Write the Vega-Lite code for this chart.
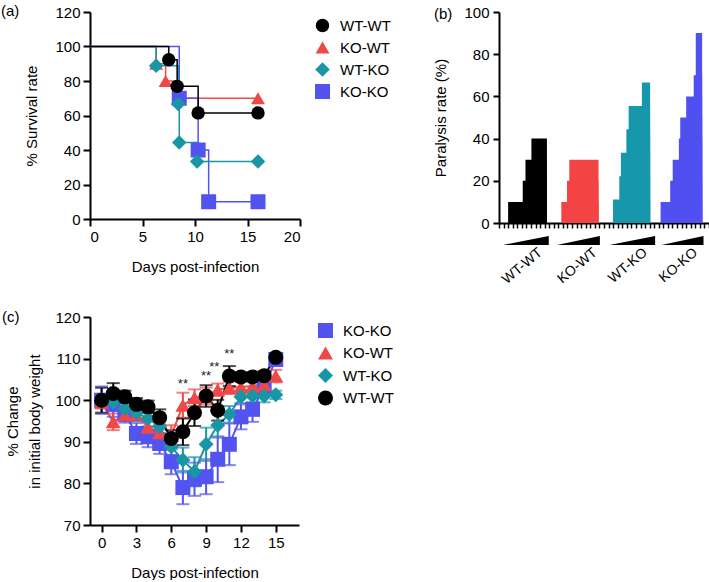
{
  "$schema": "https://vega.github.io/schema/vega-lite/v6.json",
  "background": "white",
  "padding": {"left": 0, "top": 4, "right": 0, "bottom": 0},
  "config": {
    "font": "Liberation Sans",
    "view": {"stroke": null},
    "axis": {"domainColor": "black", "domainWidth": 2, "tickColor": "black", "tickWidth": 2, "tickSize": 7, "labelFont": "Liberation Sans", "labelFontSize": 15, "labelColor": "black", "titleFont": "Liberation Sans", "titleFontSize": 15, "titleFontWeight": "normal", "titleColor": "black", "grid": false, "labelPadding": 3, "zindex": 1},
    "legend": {"labelFont": "Liberation Sans", "labelFontSize": 15, "labelColor": "black", "symbolOpacity": 1},
    "title": {"font": "Liberation Sans", "fontSize": 15, "fontWeight": "normal", "anchor": "start", "frame": "bounds", "color": "black"}
  },
  "columns": 2,
  "bounds": "flush",
  "spacing": {"row": 94, "column": 199},
  "resolve": {"scale": {"color": "independent", "shape": "independent", "size": "independent"}},
  "concat": [
    {
      "width": 210,
      "height": 207,
      "title": {"text": "(a)", "dx": -24, "dy": 18},
      "data": {"values": [
        {"group": "KO-WT", "day": 0, "survival": 100},
        {"group": "KO-WT", "day": 6.3, "survival": 90},
        {"group": "KO-WT", "day": 7.2, "survival": 80},
        {"group": "KO-WT", "day": 8.4, "survival": 70},
        {"group": "KO-WT", "day": 16, "survival": 70},
        {"group": "KO-KO", "day": 0, "survival": 100},
        {"group": "KO-KO", "day": 8.5, "survival": 70},
        {"group": "KO-KO", "day": 10.3, "survival": 40},
        {"group": "KO-KO", "day": 11.3, "survival": 10},
        {"group": "KO-KO", "day": 16, "survival": 10},
        {"group": "WT-KO", "day": 0, "survival": 100},
        {"group": "WT-KO", "day": 6.3, "survival": 88.9},
        {"group": "WT-KO", "day": 8.4, "survival": 66.7},
        {"group": "WT-KO", "day": 8.5, "survival": 44.4},
        {"group": "WT-KO", "day": 10.2, "survival": 33.3},
        {"group": "WT-KO", "day": 16, "survival": 33.3},
        {"group": "WT-WT", "day": 0, "survival": 100},
        {"group": "WT-WT", "day": 7.5, "survival": 92.3},
        {"group": "WT-WT", "day": 8.3, "survival": 76.9},
        {"group": "WT-WT", "day": 10.3, "survival": 61.5},
        {"group": "WT-WT", "day": 16, "survival": 61.5}
      ]},
      "encoding": {
        "x": {"field": "day", "type": "quantitative", "scale": {"domain": [0, 20], "nice": false}, "axis": {"values": [0, 5, 10, 15, 20], "title": "Days post-infection", "titlePadding": 15}},
        "y": {"field": "survival", "type": "quantitative", "scale": {"domain": [0, 120], "nice": false}, "axis": {"values": [0, 20, 40, 60, 80, 100, 120], "title": "%  Survival rate", "titlePadding": 15}},
        "color": {"field": "group", "type": "nominal", "scale": {"domain": ["WT-WT", "KO-WT", "WT-KO", "KO-KO"], "range": ["#000000", "#F04848", "#1896A6", "#5353F0"]},
          "legend": {"orient": "none", "legendX": 225, "legendY": 6, "title": null, "symbolSize": 170, "rowPadding": 6, "symbolStrokeWidth": 0, "labelOffset": 10}}
      },
      "layer": [
        {"mark": {"type": "line", "interpolate": "step-after", "strokeWidth": 1.5}},
        {"transform": [{"filter": "datum.day > 0"}],
         "mark": {"type": "point", "filled": true, "opacity": 1},
         "encoding": {
           "shape": {"field": "group", "type": "nominal", "scale": {"domain": ["WT-WT", "KO-WT", "WT-KO", "KO-KO"], "range": ["circle", "triangle-up", "diamond", "square"]},
             "legend": {"orient": "none", "legendX": 225, "legendY": 6, "title": null, "symbolSize": 170, "rowPadding": 6, "symbolStrokeWidth": 0, "labelOffset": 10}},
           "size": {"field": "group", "type": "nominal", "scale": {"domain": ["WT-WT", "KO-WT", "WT-KO", "KO-KO"], "range": [180, 225, 225, 170]}, "legend": null}
         }}
      ]
    },
    {
      "width": 210,
      "height": 211,
      "title": {"text": "(b)", "dx": 0, "dy": 21},
      "layer": [
        {
          "data": {"values": [
            {"group": "WT-WT", "start": 2.0, "end": 10.5, "rate": 10},
            {"group": "WT-WT", "start": 5.2, "end": 10.5, "rate": 20},
            {"group": "WT-WT", "start": 5.8, "end": 10.5, "rate": 30},
            {"group": "WT-WT", "start": 7.1, "end": 10.5, "rate": 40},
            {"group": "KO-WT", "start": 13.65, "end": 21.8, "rate": 10},
            {"group": "KO-WT", "start": 14.9, "end": 21.8, "rate": 20},
            {"group": "KO-WT", "start": 15.4, "end": 21.8, "rate": 30},
            {"group": "WT-KO", "start": 24.97, "end": 33.1, "rate": 11.1},
            {"group": "WT-KO", "start": 26.35, "end": 33.1, "rate": 22.2},
            {"group": "WT-KO", "start": 26.7, "end": 33.1, "rate": 33.3},
            {"group": "WT-KO", "start": 27.9, "end": 33.1, "rate": 44.4},
            {"group": "WT-KO", "start": 28.4, "end": 33.1, "rate": 55.5},
            {"group": "WT-KO", "start": 31.3, "end": 33.1, "rate": 66.6},
            {"group": "KO-KO", "start": 35.4, "end": 44.5, "rate": 10},
            {"group": "KO-KO", "start": 37.5, "end": 44.5, "rate": 20},
            {"group": "KO-KO", "start": 38.05, "end": 44.5, "rate": 30},
            {"group": "KO-KO", "start": 39.4, "end": 44.5, "rate": 40},
            {"group": "KO-KO", "start": 39.7, "end": 44.5, "rate": 50},
            {"group": "KO-KO", "start": 41.0, "end": 44.5, "rate": 60},
            {"group": "KO-KO", "start": 42.65, "end": 44.5, "rate": 70},
            {"group": "KO-KO", "start": 43.1, "end": 44.5, "rate": 90}
          ]},
          "mark": {"type": "rect"},
          "encoding": {
            "x": {"field": "start", "type": "quantitative", "scale": {"domain": [0, 46], "nice": false}, "axis": {"tickCount": 46, "title": null, "tickSize": 5, "tickWidth": 1.5, "labelAngle": -40, "labelPadding": 17, "labelOverlap": false, "labelFlush": false, "labelFontSize": 14, "labelExpr": "datum.value == 8 ? 'WT-WT' : datum.value == 20 ? 'KO-WT' : datum.value == 31 ? 'WT-KO' : datum.value == 42 ? 'KO-KO' : ''"}},
            "x2": {"field": "end"},
            "y": {"field": "rate", "type": "quantitative", "scale": {"domain": [0, 100], "nice": false}, "axis": {"values": [0, 20, 40, 60, 80, 100], "title": "Paralysis rate (%)", "tickSize": 6, "labelPadding": 4, "titlePadding": 15}},
            "y2": {"datum": 0},
            "color": {"field": "group", "type": "nominal", "scale": {"domain": ["WT-WT", "KO-WT", "WT-KO", "KO-KO"], "range": ["#000000", "#F24444", "#1797AB", "#5050F0"]}, "legend": null}
          }
        },
        {
          "data": {"values": [
            {"group": "WT-WT", "dose": 0.9, "top": -10.4},
            {"group": "WT-WT", "dose": 10.9, "top": -6.2},
            {"group": "KO-WT", "dose": 12.7, "top": -10.4},
            {"group": "KO-WT", "dose": 22.1, "top": -6.2},
            {"group": "WT-KO", "dose": 24.2, "top": -10.4},
            {"group": "WT-KO", "dose": 34.2, "top": -6.2},
            {"group": "KO-KO", "dose": 35.6, "top": -10.4},
            {"group": "KO-KO", "dose": 44.8, "top": -6.2}
          ]},
          "mark": {"type": "area", "color": "black", "clip": false},
          "encoding": {
            "x": {"field": "dose", "type": "quantitative"},
            "y": {"field": "top", "type": "quantitative"},
            "y2": {"datum": -10.4},
            "detail": {"field": "group", "type": "nominal"}
          }
        }
      ]
    },
    {
      "width": 209,
      "height": 208,
      "title": {"text": "(c)", "dx": -4, "dy": 19},
      "data": {"values": [
        {"group": "KO-KO", "day": 0, "w": 100, "se": 3.3},
        {"group": "KO-KO", "day": 1, "w": 99, "se": 3},
        {"group": "KO-KO", "day": 2, "w": 96.6, "se": 2},
        {"group": "KO-KO", "day": 3, "w": 92, "se": 2.5},
        {"group": "KO-KO", "day": 4, "w": 91.2, "se": 2.5},
        {"group": "KO-KO", "day": 5, "w": 89.6, "se": 2.5},
        {"group": "KO-KO", "day": 6, "w": 85.2, "se": 3},
        {"group": "KO-KO", "day": 7, "w": 79, "se": 4},
        {"group": "KO-KO", "day": 8, "w": 81, "se": 4},
        {"group": "KO-KO", "day": 9, "w": 81.6, "se": 4.2},
        {"group": "KO-KO", "day": 10, "w": 85.8, "se": 5.5},
        {"group": "KO-KO", "day": 11, "w": 89.4, "se": 5},
        {"group": "KO-KO", "day": 12, "w": 96, "se": 3},
        {"group": "KO-KO", "day": 13, "w": 97.8, "se": 3},
        {"group": "KO-KO", "day": 14, "w": 103, "se": 2},
        {"group": "KO-KO", "day": 15, "w": 109.8, "se": 1.5},
        {"group": "KO-WT", "day": 0, "w": 99.5, "se": 1.5},
        {"group": "KO-WT", "day": 1, "w": 94.8, "se": 2},
        {"group": "KO-WT", "day": 2, "w": 96.5, "se": 1.5},
        {"group": "KO-WT", "day": 3, "w": 96.5, "se": 1.5},
        {"group": "KO-WT", "day": 4, "w": 93.5, "se": 2},
        {"group": "KO-WT", "day": 5, "w": 92.2, "se": 2},
        {"group": "KO-WT", "day": 6, "w": 91.5, "se": 2.5},
        {"group": "KO-WT", "day": 7, "w": 98.8, "se": 3},
        {"group": "KO-WT", "day": 8, "w": 100.6, "se": 2},
        {"group": "KO-WT", "day": 9, "w": 101, "se": 2},
        {"group": "KO-WT", "day": 10, "w": 102.5, "se": 1.5},
        {"group": "KO-WT", "day": 11, "w": 103, "se": 1.5},
        {"group": "KO-WT", "day": 12, "w": 103.2, "se": 1.5},
        {"group": "KO-WT", "day": 13, "w": 103.4, "se": 1.5},
        {"group": "KO-WT", "day": 14, "w": 103.8, "se": 1.5},
        {"group": "KO-WT", "day": 15, "w": 105.8, "se": 1.5},
        {"group": "WT-KO", "day": 0, "w": 100, "se": 1.5},
        {"group": "WT-KO", "day": 1, "w": 99.5, "se": 2},
        {"group": "WT-KO", "day": 2, "w": 98, "se": 2},
        {"group": "WT-KO", "day": 3, "w": 97, "se": 2},
        {"group": "WT-KO", "day": 4, "w": 95.6, "se": 2},
        {"group": "WT-KO", "day": 5, "w": 93.6, "se": 2},
        {"group": "WT-KO", "day": 6, "w": 88.8, "se": 2},
        {"group": "WT-KO", "day": 7, "w": 85.6, "se": 3},
        {"group": "WT-KO", "day": 8, "w": 82.8, "se": 3.5},
        {"group": "WT-KO", "day": 9, "w": 89.4, "se": 4},
        {"group": "WT-KO", "day": 10, "w": 94, "se": 3},
        {"group": "WT-KO", "day": 11, "w": 96.6, "se": 2},
        {"group": "WT-KO", "day": 12, "w": 100.8, "se": 1.5},
        {"group": "WT-KO", "day": 13, "w": 101, "se": 1.5},
        {"group": "WT-KO", "day": 14, "w": 101, "se": 1.5},
        {"group": "WT-KO", "day": 15, "w": 101.3, "se": 1},
        {"group": "WT-WT", "day": 0, "w": 100, "se": 3},
        {"group": "WT-WT", "day": 1, "w": 101.6, "se": 2.5},
        {"group": "WT-WT", "day": 2, "w": 100.8, "se": 1.5},
        {"group": "WT-WT", "day": 3, "w": 99, "se": 1.5},
        {"group": "WT-WT", "day": 4, "w": 98.4, "se": 1.5},
        {"group": "WT-WT", "day": 5, "w": 95.8, "se": 2},
        {"group": "WT-WT", "day": 6, "w": 90.8, "se": 2},
        {"group": "WT-WT", "day": 7, "w": 92.4, "se": 3.2},
        {"group": "WT-WT", "day": 8, "w": 97, "se": 3.2},
        {"group": "WT-WT", "day": 9, "w": 101, "se": 2.6},
        {"group": "WT-WT", "day": 10, "w": 97.6, "se": 2.5},
        {"group": "WT-WT", "day": 11, "w": 105.8, "se": 2.4},
        {"group": "WT-WT", "day": 12, "w": 105.6, "se": 1},
        {"group": "WT-WT", "day": 13, "w": 105.6, "se": 1},
        {"group": "WT-WT", "day": 14, "w": 105.9, "se": 1},
        {"group": "WT-WT", "day": 15, "w": 110.3, "se": 0.8}
      ]},
      "encoding": {
        "x": {"field": "day", "type": "quantitative", "scale": {"domain": [-1, 17], "nice": false}, "axis": {"values": [0, 3, 6, 9, 12, 15], "title": "Days post-infection", "titlePadding": 15}},
        "y": {"field": "w", "type": "quantitative", "scale": {"domain": [70, 120], "nice": false, "zero": false}, "axis": {"values": [70, 80, 90, 100, 110, 120], "title": ["% Change", "in initial body weight"], "titlePadding": 12, "titleLineHeight": 22}},
        "color": {"field": "group", "type": "nominal", "scale": {"domain": ["KO-KO", "KO-WT", "WT-KO", "WT-WT"], "range": ["#5353F0", "#F04848", "#1896A6", "#000000"]},
          "legend": {"orient": "none", "legendX": 228, "legendY": 6, "title": null, "symbolSize": 170, "rowPadding": 6.5, "symbolStrokeWidth": 0, "labelOffset": 10, "symbolOpacity": 1}}
      },
      "layer": [
        {"mark": {"type": "line", "strokeWidth": 2}},
        {"mark": {"type": "errorbar", "ticks": {"size": 13, "thickness": 2}, "rule": {"strokeWidth": 2}},
         "encoding": {"yError": {"field": "se"}}},
        {"mark": {"type": "point", "filled": true, "opacity": 1},
         "encoding": {
           "shape": {"field": "group", "type": "nominal", "scale": {"domain": ["KO-KO", "KO-WT", "WT-KO", "WT-WT"], "range": ["square", "triangle-up", "diamond", "circle"]},
             "legend": {"orient": "none", "legendX": 228, "legendY": 6, "title": null, "symbolSize": 170, "rowPadding": 6.5, "symbolStrokeWidth": 0, "labelOffset": 10, "symbolOpacity": 1}},
           "size": {"field": "group", "type": "nominal", "scale": {"domain": ["KO-KO", "KO-WT", "WT-KO", "WT-WT"], "range": [225, 225, 280, 200]}, "legend": null}
         }},
        {"data": {"values": [
           {"day": 7, "w": 104, "label": "**"},
           {"day": 9, "w": 105.8, "label": "**"},
           {"day": 9.7, "w": 108, "label": "**"},
           {"day": 11, "w": 111, "label": "**"}
         ]},
         "mark": {"type": "text", "fontSize": 13, "baseline": "middle"},
         "encoding": {"text": {"field": "label"}, "color": {"value": "#222222"}}}
      ]
    }
  ]
}
